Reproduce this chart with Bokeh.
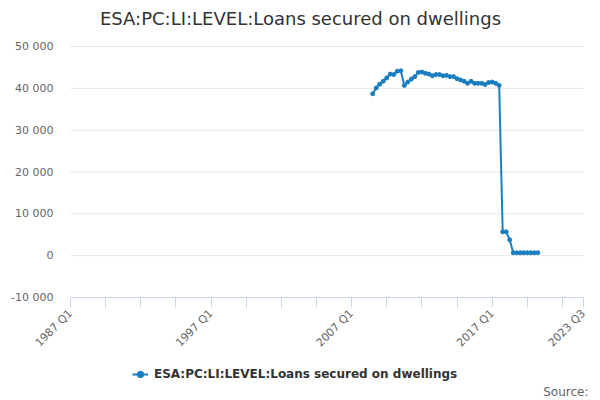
import math
from bokeh.plotting import figure
from bokeh.models import (Range1d, FixedTicker, Legend, LegendItem, Label,
                          LinearAxis, ColumnDataSource, CustomJSTickFormatter)
from bokeh.embed import file_html
from bokeh.resources import INLINE

title_text = "ESA:PC:LI:LEVEL:Loans secured on dwellings"
series_name = "ESA:PC:LI:LEVEL:Loans secured on dwellings"
source_text = "Source:"

quarters = [
    "2008 Q3", "2008 Q4",
    "2009 Q1", "2009 Q2", "2009 Q3", "2009 Q4",
    "2010 Q1", "2010 Q2", "2010 Q3", "2010 Q4",
    "2011 Q1", "2011 Q2", "2011 Q3", "2011 Q4",
    "2012 Q1", "2012 Q2", "2012 Q3", "2012 Q4",
    "2013 Q1", "2013 Q2", "2013 Q3", "2013 Q4",
    "2014 Q1", "2014 Q2", "2014 Q3", "2014 Q4",
    "2015 Q1", "2015 Q2", "2015 Q3", "2015 Q4",
    "2016 Q1", "2016 Q2", "2016 Q3", "2016 Q4",
    "2017 Q1", "2017 Q2", "2017 Q3", "2017 Q4",
    "2018 Q1", "2018 Q2", "2018 Q3", "2018 Q4",
    "2019 Q1", "2019 Q2", "2019 Q3", "2019 Q4",
    "2020 Q1", "2020 Q2",
]
values = [
    38700, 40100,
    41000, 41700, 42500, 43400,
    43300, 44100, 44200, 40700,
    41500, 42200, 42800, 43800,
    43900, 43600, 43400, 43000,
    43300, 43300, 43000, 43100,
    42800, 42800, 42300, 42000,
    41700, 41200, 41700, 41200,
    41200, 41200, 40900, 41400,
    41500, 41200, 40700, 5700,
    5700, 3800, 700, 700,
    700, 700, 700, 700,
    700, 700,
]

x_tick_labels = ["1987 Q1", "1997 Q1", "2007 Q1", "2017 Q1", "2023 Q3"]
y_ticks = [-10000, 0, 10000, 20000, 30000, 40000, 50000]


def q_to_num(s):
    y, q = s.split(" Q")
    return int(y) + (int(q) - 1) / 4.0


xs = [q_to_num(q) for q in quarters]
src = ColumnDataSource(data=dict(x=xs, y=values, q=quarters))

x_label_pos = [q_to_num(s) for s in x_tick_labels]
x_start, x_end = x_label_pos[0], x_label_pos[-1]
x_ticks = [x_start + 2.5 * i for i in range(15)] + [x_end]
y_min, y_max = y_ticks[0], y_ticks[-1]

# layout (pixels in the 600x400 canvas); the frame fills the whole canvas
W, H = 600, 400
PLOT_LEFT, PLOT_RIGHT = 70, 583
PLOT_TOP, PLOT_BOTTOM = 46, 297

px_per_x = (PLOT_RIGHT - PLOT_LEFT) / (x_end - x_start)
px_per_y = (PLOT_BOTTOM - PLOT_TOP) / (y_max - y_min)
x_range = Range1d(x_start - PLOT_LEFT / px_per_x, x_end + (W - PLOT_RIGHT) / px_per_x)
y_range = Range1d(y_min - (H - PLOT_BOTTOM) / px_per_y, y_max + PLOT_TOP / px_per_y)

p = figure(width=W, height=H, output_backend="svg", toolbar_location=None,
           x_range=x_range, y_range=y_range,
           x_axis_location=None, y_axis_location=None,
           min_border_left=0, min_border_right=0, min_border_top=0,
           min_border_bottom=0)
p.outline_line_color = None
p.background_fill_color = "white"
p.border_fill_color = "white"
for g in p.grid:
    g.visible = False

FONT = "DejaVu Sans"

# horizontal grid lines across the plot area
grid_src = ColumnDataSource(data=dict(
    x0=[x_start] * len(y_ticks), x1=[x_end] * len(y_ticks), y=y_ticks))
p.segment(x0="x0", y0="y", x1="x1", y1="y", source=grid_src,
          line_color="#e6e6e6", line_width=1)

color = "#1a7dc0"
line_r = p.line("x", "y", source=src, line_color=color, line_width=2)
scat_r = p.scatter("x", "y", source=src, size=4, marker="circle",
                   fill_color=color, line_color=color)

# x axis, fixed at y = -10 000
xa = LinearAxis(fixed_location=y_min, bounds=(x_start, x_end))
xa.ticker = FixedTicker(ticks=x_ticks)
xa.formatter = CustomJSTickFormatter(args=dict(pos=x_label_pos, lab=x_tick_labels), code="""
for (let i = 0; i < pos.length; i++) { if (Math.abs(tick - pos[i]) < 1e-6) return lab[i]; }
return "";
""")
xa.axis_line_color = "#ccd6eb"
xa.major_tick_line_color = "#ccd6eb"
xa.major_tick_out = 10
xa.major_tick_in = 0
xa.minor_tick_line_color = None
xa.major_label_orientation = math.pi / 4
xa.major_label_text_font = FONT
xa.major_label_text_font_size = "11px"
xa.major_label_text_color = "#666666"
xa.major_label_standoff = 4
p.add_layout(xa, "below")

# y axis, fixed at the left edge of the plot area
ya = LinearAxis(fixed_location=x_start, bounds=(y_min, y_max))
ya.ticker = FixedTicker(ticks=y_ticks)
ya.formatter = CustomJSTickFormatter(code="""
return tick.toFixed(0).replace(/\\B(?=(\\d{3})+(?!\\d))/g, ' ');
""")
ya.axis_line_color = None
ya.major_tick_line_color = None
ya.minor_tick_line_color = None
ya.major_tick_out = 0
ya.major_tick_in = 0
ya.major_label_text_font = FONT
ya.major_label_text_font_size = "11px"
ya.major_label_text_color = "#666666"
ya.major_label_standoff = 17
p.add_layout(ya, "left")

# title
p.add_layout(Label(x=300, y=H - 18, x_units="screen", y_units="screen",
                   text=title_text, text_align="center", text_baseline="middle",
                   text_font=FONT, text_font_size="18px", text_color="#333333"))

legend = Legend(items=[LegendItem(label=series_name, renderers=[line_r, scat_r])],
                location=(132, H - 384), orientation="horizontal",
                border_line_color=None, background_fill_alpha=0,
                padding=0, margin=0, spacing=0,
                label_text_font=FONT, label_text_font_style="bold",
                label_text_font_size="12px", label_text_color="#333333",
                glyph_width=16, glyph_height=20, label_standoff=6,
                label_height=20)
p.add_layout(legend)

p.add_layout(Label(x=588, y=H - 391, x_units="screen", y_units="screen",
                   text=source_text, text_align="right", text_baseline="middle",
                   text_font=FONT, text_font_size="12px", text_color="#666666"))

open("out.html", "w").write(file_html(p, INLINE))
